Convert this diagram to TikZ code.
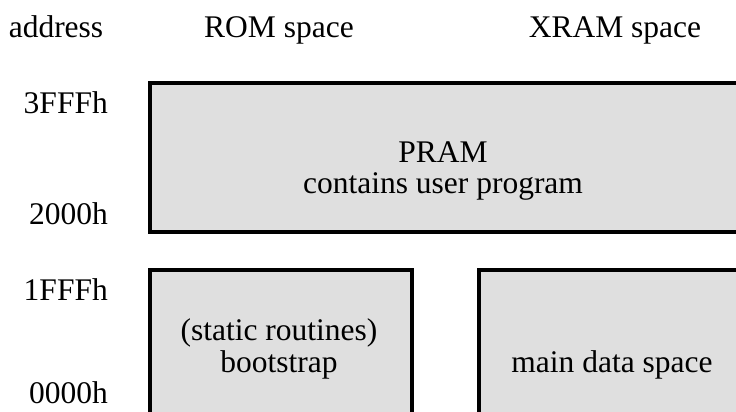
\documentclass[tikz,border=0pt]{standalone}
\usepackage{fontspec}
\setmainfont{Liberation Serif}
\definecolor{boxgray}{HTML}{DFDFDF}
\begin{document}
\begin{tikzpicture}[x=1pt,y=-1pt,
  membox/.style={fill=boxgray,draw=black,line width=3.3pt},
  lbl/.style={inner sep=0pt,anchor=base,font=\fontsize{31.5}{36}\selectfont},
  addr/.style={inner sep=0pt,anchor=base east,font=\fontsize{31.5}{36}\selectfont}]
\useasboundingbox (0,0) rectangle (736,412);
\clip (0,0) rectangle (736,412);
% boxes
\draw[membox] (150,83) rectangle (760,232);
\draw[membox] (150,270) rectangle (412,440);
\draw[membox] (479,270) rectangle (760,440);
% headers
\node[lbl] (haddr) at (56,38) {address};
\node[lbl] (hrom) at (279,38) {ROM space};
\node[lbl] (hxram) at (615,38) {XRAM space};
% addresses
\node[addr] (a3) at (108,113) {3FFFh};
\node[addr] (a2) at (108,224) {2000h};
\node[addr] (a1) at (108,300) {1FFFh};
\node[addr] (a0) at (108,403) {0000h};
% box texts
\node[lbl] (pram) at (443,162) {PRAM};
\node[lbl] (prog) at (443,193) {contains user program};
\node[lbl] (stat) at (279,340) {(static routines)};
\node[lbl] (boot) at (279,372) {bootstrap};
\node[lbl] (data) at (612,372) {main data space};
\end{tikzpicture}
\end{document}
